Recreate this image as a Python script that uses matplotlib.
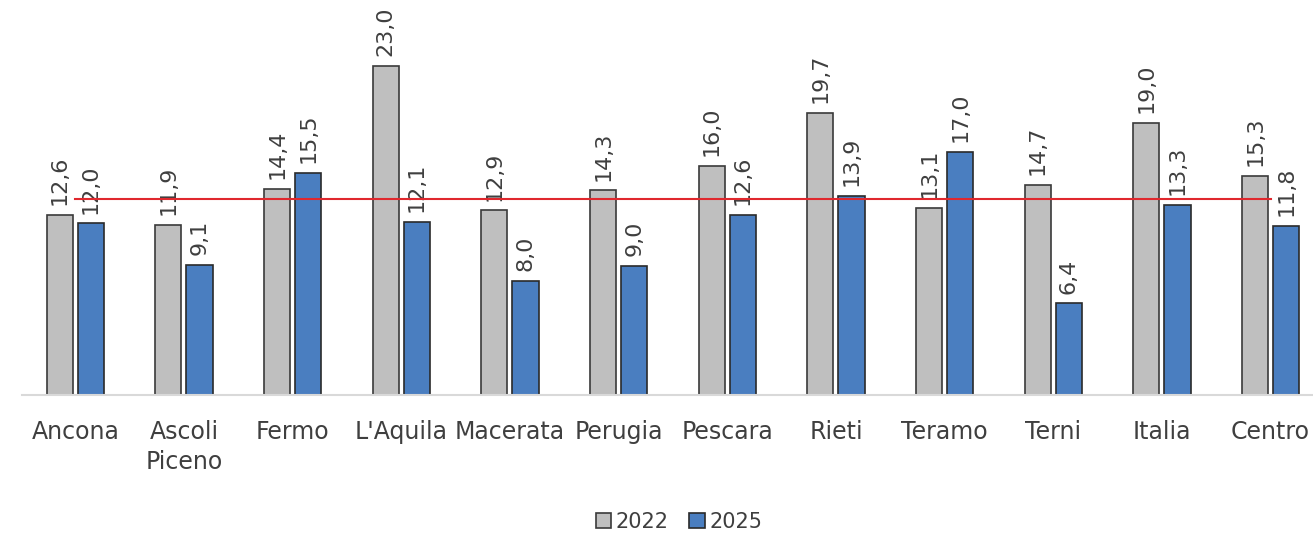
import numpy as np
import matplotlib
matplotlib.use("Agg")
import matplotlib.pyplot as plt

plt.rcParams["font.family"] = ["DejaVu Sans"]

categorie = ["Ancona", "Ascoli\nPiceno", "Fermo", "L'Aquila", "Macerata", "Perugia",
             "Pescara", "Rieti", "Teramo", "Terni", "Italia", "Centro"]
valori_2022 = [12.6, 11.9, 14.4, 23.0, 12.9, 14.3, 16.0, 19.7, 13.1, 14.7, 19.0, 15.3]
valori_2025 = [12.0, 9.1, 15.5, 12.1, 8.0, 9.0, 12.6, 13.9, 17.0, 6.4, 13.3, 11.8]
riferimento = [13.7] * len(categorie)

GRIGIO = "#BFBFBF"
BLU = "#4A7EC0"
ROSSO = "#E0282E"
TESTO = "#3F3F3F"

fig = plt.figure(figsize=(13.13, 5.36), dpi=100)
ax = fig.add_axes([0.0168, 0.263, 0.9832, 0.737])

x = np.arange(len(categorie))
w = 0.24
off = 0.143

b1 = ax.bar(x - off, valori_2022, w, color=GRIGIO, edgecolor="#3a3a3a", linewidth=1.2, label="2022")
b2 = ax.bar(x + off, valori_2025, w, color=BLU, edgecolor="#2a2a2a", linewidth=1.2, label="2025")

ax.plot(x, riferimento, color=ROSSO, linewidth=1.5, zorder=4)

for bars in (b1, b2):
    for r in bars:
        h = r.get_height()
        ax.annotate(f"{h:.1f}".replace(".", ","),
                    xy=(r.get_x() + r.get_width() / 2, h),
                    xytext=(0, 7), textcoords="offset points",
                    rotation=90, ha="center", va="bottom",
                    fontsize=16, color=TESTO)

ax.set_xlim(-0.49, 11.39)
ax.set_ylim(0, 27.6)
ax.set_xticks(x)
ax.set_xticklabels(categorie, fontsize=17, color=TESTO, linespacing=1.3)
ax.tick_params(axis="x", length=0, pad=18)
ax.set_yticks([])
for s in ("top", "right", "left"):
    ax.spines[s].set_visible(False)
ax.spines["bottom"].set_color("#D9D9D9")
ax.spines["bottom"].set_linewidth(1.5)

fig.legend(handles=[b1, b2], loc="center", bbox_to_anchor=(0.517, 0.026),
           ncol=2, frameon=False, fontsize=15, handlelength=0.75, handleheight=0.75,
           handletextpad=0.2, columnspacing=1.0, labelcolor=TESTO)

fig.savefig("out.png", dpi=100)
